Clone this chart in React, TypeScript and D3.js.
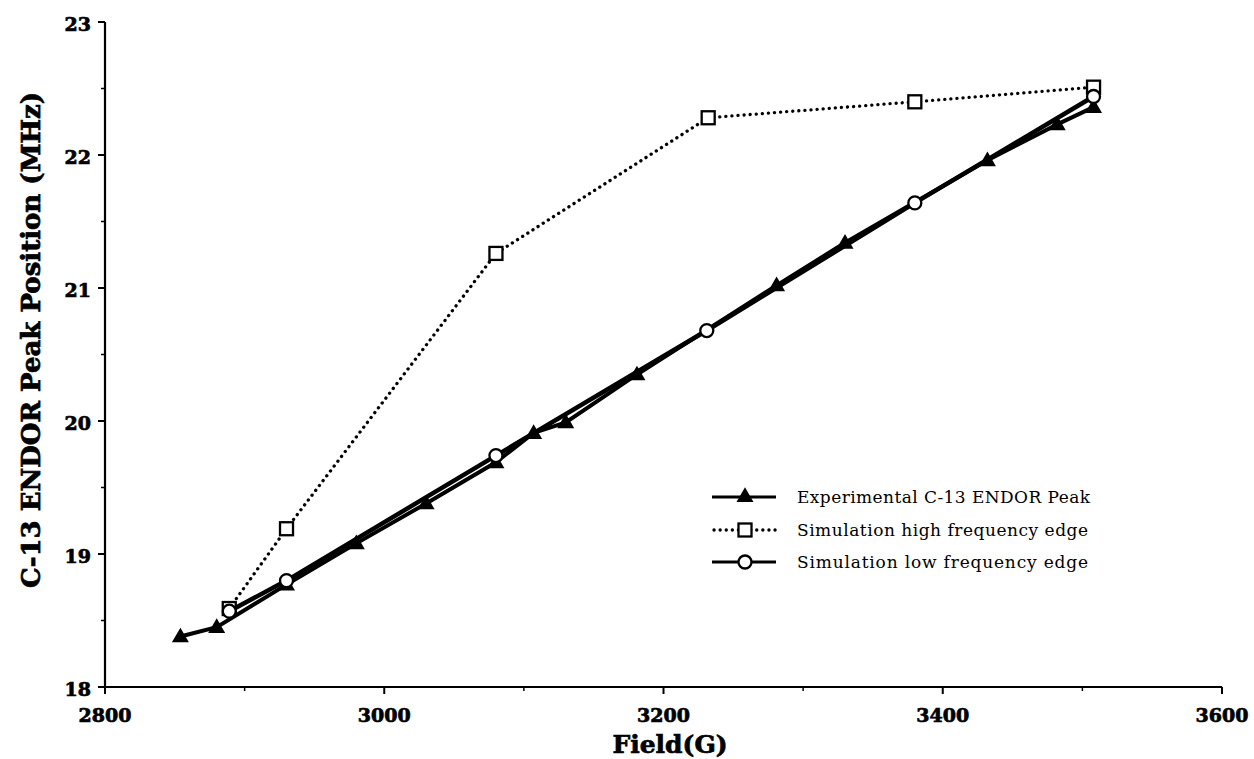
import * as d3 from 'd3';

// Experimental C-13 ENDOR peak
const expField = [2854, 2880, 2930, 2980, 3030, 3080, 3107, 3130, 3181, 3281, 3330, 3432, 3482, 3508];
const expPeak = [18.38, 18.45, 18.77, 19.08, 19.38, 19.69, 19.91, 19.99, 20.35, 21.02, 21.34, 21.96, 22.23, 22.36];

// Simulation high frequency edge
const highField = [2889, 2930, 3080, 3232, 3380, 3508];
const highPeak = [18.59, 19.19, 21.26, 22.28, 22.40, 22.51];

// Simulation low frequency edge
const lowField = [2889, 2930, 3080, 3231, 3380, 3508];
const lowPeak = [18.57, 18.80, 19.74, 20.68, 21.64, 22.44];

const xTicks = [2800, 3000, 3200, 3400, 3600];
const xMinor = [2900, 3100, 3300, 3500];
const yTicks = [18, 19, 20, 21, 22, 23];
const yMinor = [18.5, 19.5, 20.5, 21.5, 22.5];

const legendLabels = [
  'Experimental C-13 ENDOR Peak',
  'Simulation high frequency edge',
  'Simulation low frequency edge',
];
const legendWidths = [293, 291, 291];

const W = 1254;
const H = 759;
const x = d3.scaleLinear().domain([2800, 3600]).range([105, 1222]);
const y = d3.scaleLinear().domain([18, 23]).range([687, 22]);

const serif = '"DejaVu Serif", serif';

const tri = d3.symbol().type(d3.symbolTriangle).size(125);

export default function App() {
  const line = d3.line<[number, number]>().x(d => x(d[0])).y(d => y(d[1]));
  const expPts = expField.map((f, i) => [f, expPeak[i]] as [number, number]);
  const highPts = highField.map((f, i) => [f, highPeak[i]] as [number, number]);
  const lowPts = lowField.map((f, i) => [f, lowPeak[i]] as [number, number]);

  const legendY = [497, 530, 562];

  return (
    <svg width={W} height={H} style={{ position: 'absolute', left: 0, top: 0, background: '#fff' }}>
      {/* axes */}
      <line x1={105} x2={105} y1={y(23)} y2={y(18) + 1} stroke="#000" strokeWidth={2.2} />
      <line x1={104} x2={x(3600)} y1={y(18)} y2={y(18)} stroke="#000" strokeWidth={2.2} />
      {yTicks.map(t => (
        <g key={'yt' + t}>
          <line x1={98} x2={105} y1={y(t)} y2={y(t)} stroke="#000" strokeWidth={2} />
          <text x={91} y={y(t) + 9} textAnchor="end" fontFamily={serif} fontWeight="bold" fontSize={19} stroke="#000" strokeWidth={0.7}>{t}</text>
        </g>
      ))}
      {yMinor.map(t => (
        <line key={'ym' + t} x1={101} x2={105} y1={y(t)} y2={y(t)} stroke="#000" strokeWidth={1.5} />
      ))}
      {xTicks.map(t => (
        <g key={'xt' + t}>
          <line x1={x(t)} x2={x(t)} y1={y(18)} y2={y(18) + 7} stroke="#000" strokeWidth={2} />
          <text x={x(t)} y={y(18) + 35} textAnchor="middle" fontFamily={serif} fontWeight="bold" fontSize={19} stroke="#000" strokeWidth={0.7}>{t}</text>
        </g>
      ))}
      {xMinor.map(t => (
        <line key={'xm' + t} x1={x(t)} x2={x(t)} y1={y(18)} y2={y(18) + 4} stroke="#000" strokeWidth={1.5} />
      ))}

      {/* axis titles */}
      <text x={670} y={753} textAnchor="middle" fontFamily={serif} fontWeight="bold" fontSize={25} stroke="#000" strokeWidth={0.7}>Field(G)</text>
      <text transform={`translate(40,${340}) rotate(-90)`} textAnchor="middle" fontFamily={serif} fontWeight="bold" fontSize={26} stroke="#000" strokeWidth={0.7}>
        C-13 ENDOR Peak Position (MHz)
      </text>

      {/* series lines */}
      <path d={line(highPts) || ''} fill="none" stroke="#000" strokeWidth={3.3} strokeDasharray="0.1 6" strokeLinecap="round" />
      <path d={line(lowPts) || ''} fill="none" stroke="#000" strokeWidth={4.5} />
      <path d={line(expPts) || ''} fill="none" stroke="#000" strokeWidth={4} />

      {/* markers */}
      {expPts.map((p, i) => (
        <path key={'e' + i} d={tri() || ''} transform={`translate(${x(p[0])},${y(p[1]) + 1})`} fill="#000" />
      ))}
      {highPts.map((p, i) => (
        <rect key={'h' + i} x={x(p[0]) - 6.5} y={y(p[1]) - 6.5} width={13} height={13} fill="#fff" stroke="#000" strokeWidth={2.3} />
      ))}
      {lowPts.map((p, i) => (
        <circle key={'l' + i} cx={x(p[0])} cy={y(p[1])} r={6.5} fill="#fff" stroke="#000" strokeWidth={2.3} />
      ))}

      {/* legend */}
      <g>
        <line x1={712} x2={776} y1={legendY[0]} y2={legendY[0]} stroke="#000" strokeWidth={3.2} />
        <path d={tri() || ''} transform={`translate(745,${legendY[0]})`} fill="#000" />
        <line x1={714} x2={776} y1={legendY[1]} y2={legendY[1]} stroke="#000" strokeWidth={3.3} strokeDasharray="0.1 6" strokeLinecap="round" />
        <rect x={738.5} y={legendY[1] - 6.5} width={13} height={13} fill="#fff" stroke="#000" strokeWidth={2.3} />
        <line x1={712} x2={776} y1={legendY[2]} y2={legendY[2]} stroke="#000" strokeWidth={3.2} />
        <circle cx={745} cy={legendY[2]} r={6.5} fill="#fff" stroke="#000" strokeWidth={2.3} />
        {legendLabels.map((l, i) => (
          <text key={l} x={797} y={legendY[i] + 6} fontFamily={serif} fontSize={17} textLength={legendWidths[i]}>{l}</text>
        ))}
      </g>
    </svg>
  );
}
